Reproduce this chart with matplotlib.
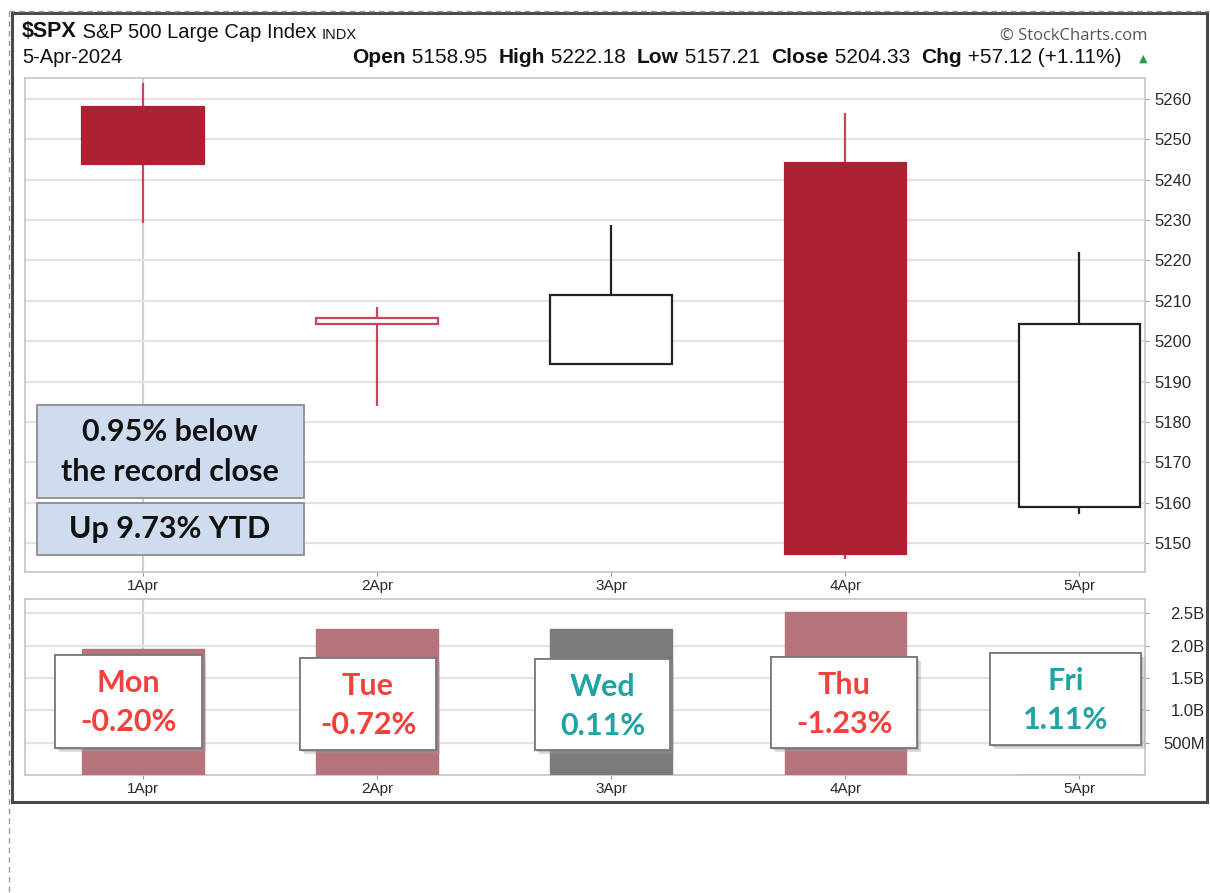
import numpy as np
import matplotlib.pyplot as plt
from matplotlib.patches import Rectangle
from matplotlib.lines import Line2D
import matplotlib.patheffects as pe

# data
days = ['1Apr', '2Apr', '3Apr', '4Apr', '5Apr']
opens = [5257.97, 5204.29, 5194.37, 5244.05, 5158.95]
highs = [5263.95, 5208.34, 5228.75, 5256.59, 5222.18]
lows = [5229.20, 5184.05, 5194.37, 5146.06, 5157.21]
closes = [5243.77, 5205.81, 5211.49, 5147.21, 5204.33]
prev_close = 5254.35
volumes = [1.94, 2.25, 2.25, 2.52, 0.0]   # billions, 5Apr not posted
day_names = ['Mon', 'Tue', 'Wed', 'Thu', 'Fri']
day_chg = ['-0.20%', '-0.72%', '0.11%', '-1.23%', '1.11%']
price_ticks = [5150, 5160, 5170, 5180, 5190, 5200, 5210, 5220, 5230, 5240, 5250, 5260]
vol_ticks = [0.5, 1.0, 1.5, 2.0, 2.5]
vol_labels = ['500M', '1.0B', '1.5B', '2.0B', '2.5B']

W, H = 1210, 893
RED = '#ae2133'
RED_WICK = '#c4485a'
RED_VOL = '#b7737a'
GRAY_VOL = '#7b7b7b'
UP = '#1fa3a3'
DOWN = '#f0413c'

fig = plt.figure(figsize=(W / 100, H / 100), dpi=100)


def fx(x):
    return x / W


def fy(y):
    return 1 - y / H


def ax_rect(x0, y0, x1, y1):
    return [fx(x0), fy(y1), fx(x1) - fx(x0), fy(y0) - fy(y1)]


ax = fig.add_axes(ax_rect(25, 78, 1145, 572))
axv = fig.add_axes(ax_rect(25, 599, 1145, 775))

x = np.arange(len(days))
bw = 0.52

# candles
prev = [prev_close] + closes[:-1]
for i in range(len(days)):
    down = closes[i] < prev[i]
    col = RED if down else '#222222'
    filled = closes[i] < opens[i]
    ax.vlines(x[i], lows[i], highs[i], color=RED_WICK if down else col, lw=1.6, zorder=2)
    lo = min(opens[i], closes[i])
    hgt = max(abs(closes[i] - opens[i]), 0.6)
    ax.bar(x[i], hgt, bottom=lo, width=bw, facecolor=col if filled else 'white',
           edgecolor=RED_WICK if (down and not filled) else col, lw=1.6, zorder=3)

# volume
vcols = []
for i in range(len(days)):
    vcols.append(RED_VOL if closes[i] < prev[i] else GRAY_VOL)
axv.bar(x, volumes, width=bw, color=vcols, edgecolor=vcols, lw=1, zorder=3)

for a in (ax, axv):
    a.set_xlim(-0.505, 4.28)
    a.set_xticks(x)
    a.set_xticklabels(days)
    a.yaxis.tick_right()
    a.grid(axis='y', color='#e3e3e3', lw=1.6, zorder=0)
    a.axvline(0, color='#cfcfcf', lw=1.5, zorder=1)
    for s in a.spines.values():
        s.set_color('#c4c4c4')
        s.set_linewidth(1.2)
    a.tick_params(axis='both', colors='#9a9a9a', labelcolor='#2a2a2a',
                  labelsize=11, length=3, direction='out')
    a.tick_params(axis='x', pad=2)
    for t in a.get_xticklabels() + a.get_yticklabels():
        t.set_family('Liberation Sans')

ax.set_ylim(5142.8, 5265.2)
ax.set_yticks(price_ticks)
ax.tick_params(axis='y', labelsize=12, pad=4)
for t in ax.get_yticklabels():
    t.set_family('Liberation Sans')

axv.set_ylim(0, 2.72)
axv.set_yticks(vol_ticks)
axv.set_yticklabels(vol_labels)
axv.tick_params(axis='y', labelsize=12, pad=40)
for t in axv.get_yticklabels():
    t.set_family('Liberation Sans')
    t.set_horizontalalignment('right')

# info boxes on the price panel
def px_box(x0, y0, x1, y1, fc, ec, shadow=False):
    r = Rectangle((fx(x0), fy(y1)), fx(x1) - fx(x0), fy(y0) - fy(y1),
                  transform=fig.transFigure, facecolor=fc, edgecolor=ec,
                  lw=1.3, zorder=5)
    if shadow:
        r.set_path_effects([pe.withSimplePatchShadow(offset=(3, -3), shadow_rgbFace='#9a9a9a', alpha=0.35),
                            pe.withSimplePatchShadow(offset=(1.5, -1.5), shadow_rgbFace='#888888', alpha=0.35),
                            pe.Normal()])
    fig.add_artist(r)


px_box(37, 405, 304, 498, '#cfdbee', '#8c8c8c')
px_box(37, 503, 304, 555, '#cfdbee', '#8c8c8c')
fig.text(fx(170), fy(432), '0.95% below', ha='center', va='center',
         family='Lato', weight='bold', size=22, color='#111111', zorder=6)
fig.text(fx(170), fy(472), 'the record close', ha='center', va='center',
         family='Lato', weight='bold', size=22, color='#111111', zorder=6)
fig.text(fx(170), fy(529), 'Up 9.73% YTD', ha='center', va='center',
         family='Lato', weight='bold', size=22, color='#111111', zorder=6)

# day boxes on the volume panel
day_boxes = [(55, 655, 202, 748), (300, 658, 436, 750), (535, 659, 670, 750),
             (771, 657, 917, 748), (990, 653, 1141, 745)]
for (x0, y0, x1, y1), nm, chg in zip(day_boxes, day_names, day_chg):
    px_box(x0, y0, x1, y1, 'white', '#7a7a7a', shadow=True)
    c = DOWN if chg.startswith('-') else UP
    cx = (x0 + x1) / 2
    fig.text(fx(cx), fy(y0 + 28), nm, ha='center', va='center', family='Lato',
             weight='bold', size=22, color=c, zorder=6)
    fig.text(fx(cx), fy(y0 + 67), chg, ha='center', va='center', family='Lato',
             weight='bold', size=22, color=c, zorder=6)

# header
def chain(parts, x0, y0):
    t = fig.text(fx(x0), fy(y0), parts[0][0], weight=parts[0][1], size=parts[0][2],
                 family='Liberation Sans', color='#111111', va='baseline')
    for s, w, sz in parts[1:]:
        t = ax.annotate(s, xy=(1, 0), xycoords=t, xytext=(0, 0), textcoords='offset points',
                        weight=w, size=sz, family='Liberation Sans', color='#111111',
                        va='bottom', annotation_clip=False)
    return t


chain([('$SPX', 'bold', 15.5), (' S&P 500 Large Cap Index ', 'normal', 14.5),
       ('INDX', 'normal', 10.5)], 22, 37)
fig.text(fx(22), fy(63), '5-Apr-2024', size=14.5, family='Liberation Sans',
         color='#111111', va='baseline')
chain([('Open', 'bold', 15), (' 5158.95  ', 'normal', 15),
       ('High', 'bold', 15), (' 5222.18  ', 'normal', 15),
       ('Low', 'bold', 15), (' 5157.21  ', 'normal', 15),
       ('Close', 'bold', 15), (' 5204.33  ', 'normal', 15),
       ('Chg', 'bold', 15), (' +57.12 (+1.11%)', 'normal', 15)], 352, 63)
fig.text(fx(1147), fy(62), '\u25b2', size=8, family='DejaVu Sans', color='#2e9a4a',
         ha='right', va='baseline')
fig.text(fx(1147), fy(40), '\u00a9 StockCharts.com', size=12, family='Open Sans',
         color='#555555', ha='right', va='baseline')

# frame
fig.add_artist(Rectangle((fx(12), fy(802)), fx(1207) - fx(12), fy(13) - fy(802),
                         transform=fig.transFigure, fill=False, edgecolor='#4a4a4a',
                         lw=2.2, zorder=10))
fig.add_artist(Line2D([fx(9), fx(1209)], [fy(11), fy(11)], transform=fig.transFigure,
                      color='#9a9a9a', lw=1, ls=(0, (4, 3)), zorder=10))
fig.add_artist(Line2D([fx(9), fx(9)], [fy(11), fy(893)], transform=fig.transFigure,
                      color='#9a9a9a', lw=1, ls=(0, (4, 3)), zorder=10))

fig.savefig('out.png', dpi=100, facecolor='white')
